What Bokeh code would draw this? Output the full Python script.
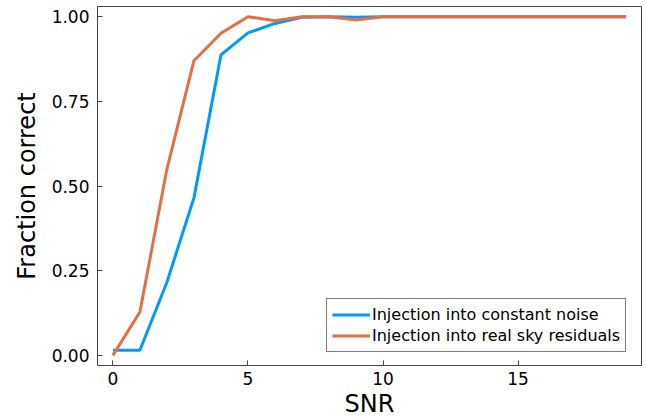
from bokeh.plotting import figure
from bokeh.models import Range1d, Legend, LegendItem, FixedTicker
from bokeh.embed import file_html
from bokeh.resources import INLINE

snr = list(range(20))
constant_noise = [0.015, 0.015, 0.216, 0.465, 0.887, 0.952, 0.980, 0.998, 1.0, 0.998,
                  1.0, 1.0, 1.0, 1.0, 1.0, 1.0, 1.0, 1.0, 1.0, 1.0]
real_sky = [0.0, 0.128, 0.55, 0.870, 0.951, 1.0, 0.988, 1.0, 1.0, 0.990,
            1.0, 1.0, 1.0, 1.0, 1.0, 1.0, 1.0, 1.0, 1.0, 1.0]
x_ticks = [0, 5, 10, 15]
y_ticks = [0.0, 0.25, 0.5, 0.75, 1.0]
y_tick_labels = {0.0: "0.00", 0.25: "0.25", 0.5: "0.50", 0.75: "0.75", 1.0: "1.00"}

FONT = "DejaVu Sans"

p = figure(width=646, height=420, output_backend="svg", toolbar_location=None,
           x_range=Range1d(-0.57, 19.57), y_range=Range1d(-0.03, 1.03),
           min_border_left=97, min_border_right=5, min_border_top=6, min_border_bottom=55)
p.frame_width = 544
p.frame_height = 359

r1 = p.line(snr, constant_noise, line_color="#009AFA", line_width=3)
r2 = p.line(snr, real_sky, line_color="#E36F47", line_width=3)

p.xgrid.visible = False
p.ygrid.visible = False
p.outline_line_color = "#444444"
p.outline_line_width = 1
p.background_fill_color = "white"
p.border_fill_color = "white"

for ax in (p.xaxis[0], p.yaxis[0]):
    ax.major_tick_in = 5
    ax.major_tick_out = 0
    ax.minor_tick_in = 0
    ax.minor_tick_out = 0
    ax.axis_line_color = "#444444"
    ax.major_tick_line_color = "#444444"
    ax.major_label_text_font = FONT
    ax.major_label_text_font_size = "17px"
    ax.major_label_text_color = "black"
    ax.axis_label_text_font = FONT
    ax.axis_label_text_font_size = "24px"
    ax.axis_label_text_font_style = "normal"
    ax.axis_label_text_color = "black"

p.xaxis.ticker = FixedTicker(ticks=x_ticks)
p.yaxis.ticker = FixedTicker(ticks=y_ticks)
p.yaxis.major_label_overrides = y_tick_labels
p.xaxis.axis_label = "SNR"
p.yaxis.axis_label = "Fraction correct"
p.xaxis.major_label_standoff = 6
p.yaxis.major_label_standoff = 8
p.xaxis.axis_label_standoff = 2
p.yaxis.axis_label_standoff = 8

legend = Legend(items=[
    LegendItem(label="Injection into constant noise", renderers=[r1]),
    LegendItem(label="Injection into real sky residuals", renderers=[r2]),
], location=(229, 13))
legend.label_text_font = FONT
legend.label_text_font_size = "16px"
legend.label_text_color = "black"
legend.glyph_width = 38
legend.glyph_height = 21
legend.label_height = 21
legend.label_standoff = 2
legend.spacing = 0
legend.padding = 5
legend.margin = 0
legend.border_line_color = "black"
legend.border_line_width = 1
legend.background_fill_color = "white"
legend.background_fill_alpha = 1.0
p.add_layout(legend, "center")

open("out.html", "w").write(file_html(p, INLINE))
